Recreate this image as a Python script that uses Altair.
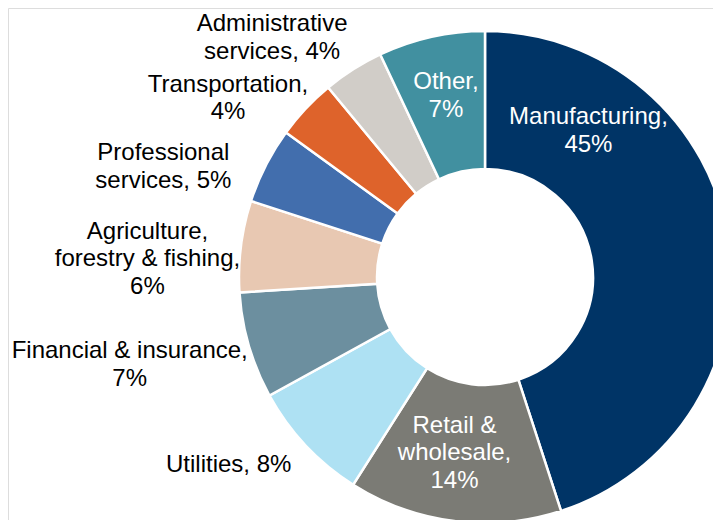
import math
import altair as alt
import pandas as pd

# ---- data (clockwise from 12 o'clock) ----
sectors = ["Manufacturing", "Retail & wholesale", "Utilities", "Financial & insurance",
           "Agriculture, forestry & fishing", "Professional services", "Transportation",
           "Administrative services", "Other"]
shares = [45, 14, 8, 7, 6, 5, 4, 4, 7]
label_lines = [
    "Manufacturing,\n45%",
    "Retail &\nwholesale,\n14%",
    "Utilities, 8%",
    "Financial & insurance,\n7%",
    "Agriculture,\nforestry & fishing,\n6%",
    "Professional\nservices, 5%",
    "Transportation,\n4%",
    "Administrative\nservices, 4%",
    "Other,\n7%",
]

# ---- styling / layout ----
colors = ["#003466", "#7B7B75", "#AEE1F3", "#6C8F9F", "#E8C8B2",
          "#426EAD", "#DE632B", "#D1CDC8", "#4190A0"]
text_colors = ["white", "white", "black", "black", "black",
               "black", "black", "black", "white"]
angle_nudge_deg = [-45.7, 2.6, 6.9, 2.3, -4.2, -8.1, -8.4, -9.3, 0.4]
label_radius = [179, 179, 318, 366, 338, 340, 313, 320, 185]

CX, CY = 477, 269
R_OUT, R_IN = 246, 108
FS, LH = 24, 27.5

total = sum(shares)
cum = 0
mids = []
for s in shares:
    mids.append((cum + s / 2) / total * 2 * math.pi)
    cum += s

df = pd.DataFrame({
    "idx": list(range(len(sectors))),
    "sector": sectors,
    "value": shares,
    "label": label_lines,
    "nlines": [t.count("\n") + 1 for t in label_lines],
    "txtcolor": text_colors,
    "lab_theta": [m + math.radians(n) for m, n in zip(mids, angle_nudge_deg)],
    "lab_r": label_radius,
})

arcs = alt.Chart(df).mark_arc(
    outerRadius=R_OUT, innerRadius=R_IN, stroke="white", strokeWidth=2.5
).encode(
    theta=alt.Theta("value:Q", stack=True),
    color=alt.Color("sector:N", scale=alt.Scale(domain=sectors, range=colors), legend=None),
    order=alt.Order("idx:Q"),
    x=alt.value(CX),
    y=alt.value(CY),
)


def label_layer(n):
    return alt.Chart(df).transform_filter(
        alt.datum.nlines == n
    ).mark_text(
        font="Liberation Sans", fontSize=FS, lineHeight=LH, lineBreak="\n",
        align="center", baseline="middle", dy=-(n - 1) / 2 * LH
    ).encode(
        theta=alt.Theta("lab_theta:Q", scale=None, stack=None),
        radius=alt.Radius("lab_r:Q", scale=None),
        text="label:N",
        color=alt.Color("txtcolor:N", scale=None),
        x=alt.value(CX),
        y=alt.value(CY),
    )


chart = alt.layer(arcs, label_layer(1), label_layer(2), label_layer(3)).properties(
    width=705, height=512, autosize=alt.AutoSizeParams(type="none"), padding=0
).configure_view(strokeWidth=0, stroke=None).configure(background="white")

chart.save("out.html", embed_options={"renderer": "svg", "actions": False})
